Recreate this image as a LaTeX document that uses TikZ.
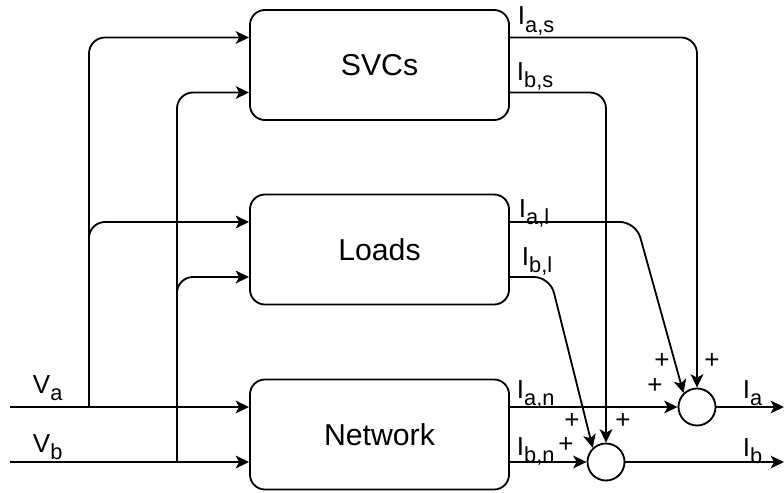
\documentclass[tikz,border=0pt]{standalone}
\usepackage{fontspec}
\setmainfont{Liberation Sans}
\usetikzlibrary{arrows.meta}
\newcommand\lsub[1]{\raisebox{-5.5pt}{\fontsize{15.5}{17}\selectfont #1}}

\begin{document}
\begin{tikzpicture}[x=0.025cm,y=-0.025cm,line width=1.3pt,
  blk/.style={draw,rounded corners=0.375cm,minimum width=6.475cm,minimum height=2.75cm,font=\fontsize{21.5}{24}\selectfont},
  sum/.style={draw,circle,minimum size=0.925cm,inner sep=0pt},
  wire/.style={-{Stealth[length=9.5pt,width=9pt,inset=2.5pt]},rounded corners=0.4cm},
  lbl/.style={anchor=base west,inner sep=0pt,font=\fontsize{18.5}{20}\selectfont},
  pl/.style={inner sep=0pt,font=\fontsize{18.5}{20}\selectfont}]
\useasboundingbox (0,0) rectangle (784,493);
\foreach \y/\n/\t in {65/svc/SVCs,249.5/load/Loads,434.5/net/Network}{
  \node[blk] (\n) at (379.5,\y) {\t};
  \coordinate (\n-ai) at ([yshift=6.875mm]\n.west);
  \coordinate (\n-bi) at ([yshift=-6.875mm]\n.west);
  \coordinate (\n-ao) at ([yshift=6.875mm]\n.east);
  \coordinate (\n-bo) at ([yshift=-6.875mm]\n.east);}
\node[sum] (suma) at (697,407) {};
\node[sum] (sumb) at (606,462) {};
\coordinate (va) at (10,407);
\coordinate (vb) at (10,462);
\coordinate (ja) at (89,407);
\coordinate (jb) at (177,462);
\coordinate (la) at (636,222);
\coordinate (lb) at (550,277);
\coordinate (ia) at (784,407);
\coordinate (ib) at (784,462);
\draw[wire] (va) -- (net-ai);
\draw[wire] (ja) |- (load-ai);
\draw[wire] (ja) |- (svc-ai);
\draw[wire] (vb) -- (net-bi);
\draw[wire] (jb) |- (load-bi);
\draw[wire] (jb) |- (svc-bi);
\draw[wire] (svc-ao) -| (suma.north);
\draw[wire] (svc-bo) -| (sumb.north);
\draw[wire] (load-ao) -- (la) -- (suma.134);
\draw[wire] (load-bo) -- (lb) -- (sumb.133);
\draw[wire] (net-ao) -- (suma);
\draw[wire] (net-bo) -- (sumb);
\draw[wire] (suma) -- (ia);
\draw[wire] (sumb) -- (ib);
\node[lbl] (lIas) at (517,25) {I\lsub{a,s}};
\node[lbl] (lIbs) at (516,80) {I\lsub{b,s}};
\node[lbl] (lIal) at (518,217) {I\lsub{a,l}};
\node[lbl] (lIbl) at (521,265) {I\lsub{b,l}};
\node[lbl] (lIan) at (516,398) {I\lsub{a,n}};
\node[lbl] (lIbn) at (516,455) {I\lsub{b,n}};
\node[lbl] (lIa) at (742,398) {I\lsub{a}};
\node[lbl] (lIb) at (742,456) {I\lsub{b}};
\node[lbl] (lVa) at (32,393) {V\lsub{a}};
\node[lbl] (lVb) at (32,452) {V\lsub{b}};
\foreach \p/\x/\y in {1/662/361,2/712/361,3/655/386,4/572/421,5/623/421,6/566/445}
  \node[pl] (plus\p) at (\x,\y) {+};
\end{tikzpicture}
\end{document}
